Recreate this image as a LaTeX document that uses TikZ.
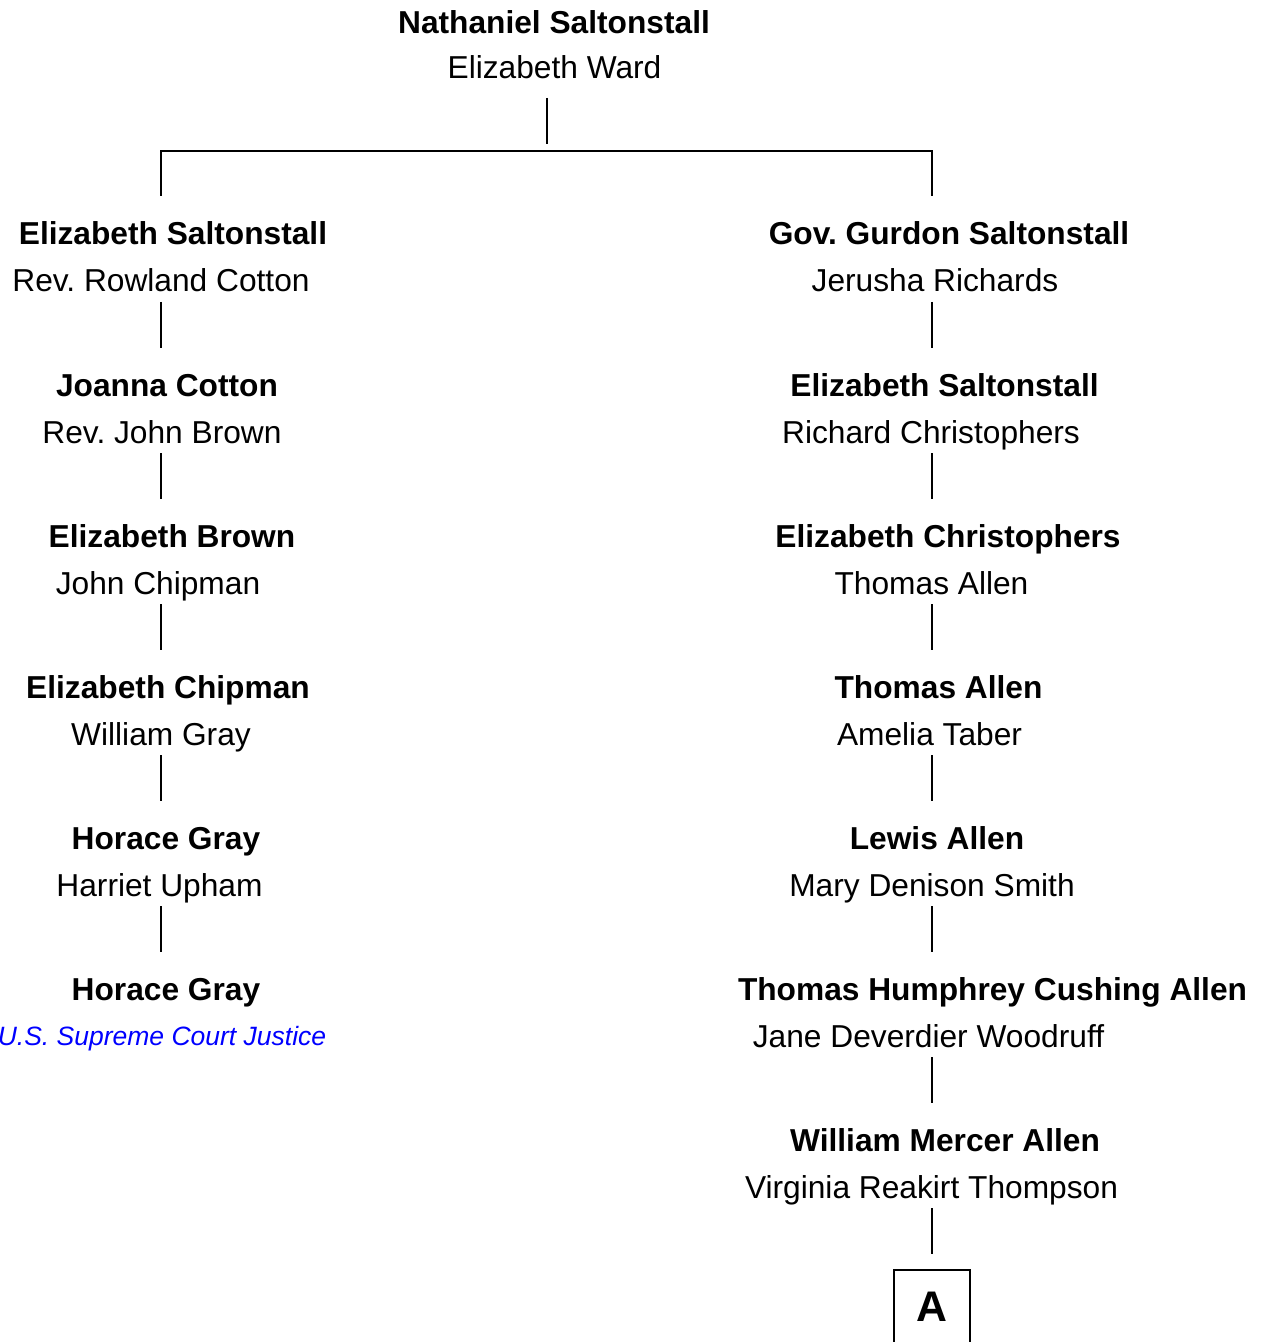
\documentclass[tikz,border=0pt]{standalone}
\usepackage{fontspec}
\setmainfont{Liberation Sans}
\frenchspacing
\begin{document}
\begin{tikzpicture}[x=0.5pt,y=-0.5pt,
  nm/.style={anchor=base,inner sep=0pt,font=\fontsize{15.85pt}{18pt}\selectfont\bfseries},
  sp/.style={anchor=base,inner sep=0pt,font=\fontsize{15.85pt}{18pt}\selectfont},
  note/.style={anchor=base,inner sep=0pt,font=\fontsize{13.25pt}{16pt}\selectfont\itshape,text=blue},
  link/.style={line width=0.75pt,black}]
\useasboundingbox (0,0) rectangle (1267,1342);
% top couple
\node[nm] (t1) at (554,34) {Nathaniel Saltonstall};
\node[sp] (t2) at (554.5,79) {Elizabeth Ward};
% left column
\node[nm] (l1b) at (173,245) {Elizabeth Saltonstall};
\node[sp] (l1r) at (161,292) {Rev. Rowland Cotton};
\node[nm] (l2b) at (167,396) {Joanna Cotton};
\node[sp] (l2r) at (162,443) {Rev. John Brown};
\node[nm] (l3b) at (172,547) {Elizabeth Brown};
\node[sp] (l3r) at (158,594) {John Chipman};
\node[nm] (l4b) at (168,698) {Elizabeth Chipman};
\node[sp] (l4r) at (161,745) {William Gray};
\node[nm] (l5b) at (166,849) {Horace Gray};
\node[sp] (l5r) at (159.5,896) {Harriet Upham};
\node[nm] (l6b) at (166,1000) {Horace Gray};
\node[note] (l6r) at (162,1045) {U.S. Supreme Court Justice};
% right column
\node[nm] (r1b) at (949,245) {Gov. Gurdon Saltonstall};
\node[sp] (r1r) at (935,292) {Jerusha Richards};
\node[nm] (r2b) at (944.5,396) {Elizabeth Saltonstall};
\node[sp] (r2r) at (931,443) {Richard Christophers};
\node[nm] (r3b) at (948,547) {Elizabeth Christophers};
\node[sp] (r3r) at (931.5,594) {Thomas Allen};
\node[nm] (r4b) at (938.5,698) {Thomas Allen};
\node[sp] (r4r) at (929.5,745) {Amelia Taber};
\node[nm] (r5b) at (937,849) {Lewis Allen};
\node[sp] (r5r) at (932,896) {Mary Denison Smith};
\node[nm] (r6b) at (992.5,1000) {Thomas Humphrey Cushing Allen};
\node[sp] (r6r) at (928.5,1047) {Jane Deverdier Woodruff};
\node[nm] (r7b) at (945,1151) {William Mercer Allen};
\node[sp] (r7r) at (931.5,1198) {Virginia Reakirt Thompson};
% box A
\coordinate (boxtl) at (894,1270);
\coordinate (boxbr) at (970,1360);
\draw[link] (boxtl) rectangle (boxbr);
\node[anchor=base,inner sep=0pt,font=\fontsize{21.4pt}{24pt}\selectfont\bfseries] (boxA) at (932,1321) {A};
% top fork
\coordinate (ta) at (547,98);
\coordinate (tb) at (547,144);
\coordinate (hl) at (161,151);
\coordinate (hr) at (932,151);
\coordinate (hld) at (161,196);
\coordinate (hrd) at (932,196);
\draw[link] (ta) -- (tb);
\draw[link] (hld) -- (hl) -- (hr) -- (hrd);
% left links
\foreach \i in {0,...,4}{
  \coordinate (la\i) at (161,{302+151*\i});
  \coordinate (lb\i) at (161,{348+151*\i});
  \draw[link] (la\i) -- (lb\i);
}
% right links
\foreach \i in {0,...,6}{
  \coordinate (ra\i) at (932,{302+151*\i});
  \coordinate (rb\i) at (932,{348+151*\i});
  \draw[link] (ra\i) -- (rb\i);
}
\end{tikzpicture}
\end{document}
